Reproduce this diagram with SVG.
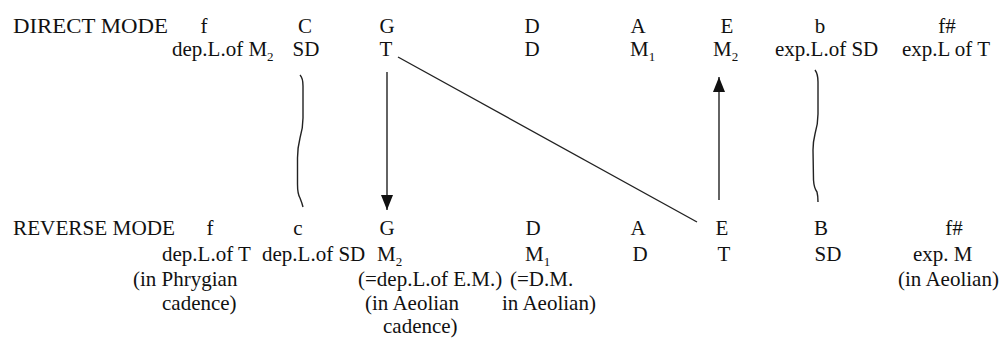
<svg xmlns="http://www.w3.org/2000/svg" width="1002" height="338" viewBox="0 0 1002 338">
<style>
text{font-family:"Liberation Serif","Times New Roman",serif;font-size:21px;fill:#111}
.m{text-anchor:middle}
.sub{font-size:13px}
.ln{stroke:#222;stroke-width:1.4;fill:none}
</style>
<defs>
<marker id="ah" viewBox="0 0 15 12" markerWidth="15" markerHeight="12" refX="15" refY="6" orient="auto" markerUnits="userSpaceOnUse">
<path d="M0,0 L15,6 L0,12 z" fill="#111"/>
</marker>
</defs>
<rect width="1002" height="338" fill="#fff"/>
<g id="connectors">
<path class="ln" d="M300,75 Q303,78 303,86 L303,118 Q303,128 300,138 Q297.5,148 297.5,158 L297.5,184 Q297.5,194 300,198 Q302,203 303,207"/>
<path class="ln" d="M815,70 Q818,74 818,82 L818,114 Q818,124 815,134 Q813,142 813,150 L813.5,180 Q814,188 817,192 Q818,196 818,202"/>
<line class="ln" x1="387" y1="72" x2="387" y2="210" marker-end="url(#ah)"/>
<line class="ln" x1="719" y1="200" x2="719" y2="77" marker-end="url(#ah)"/>
<line class="ln" x1="398" y1="57" x2="697" y2="222"/>
</g>
<g id="direct-mode-label"><text x="13" y="33" textLength="155" lengthAdjust="spacingAndGlyphs">DIRECT MODE</text></g>
<g id="d-f"><text class="m" x="204" y="33">f</text><text x="172" y="56">dep.L.of M<tspan class="sub" dy="5">2</tspan></text></g>
<g id="d-C"><text class="m" x="305" y="33">C</text><text class="m" x="306" y="56">SD</text></g>
<g id="d-G"><text class="m" x="387" y="33">G</text><text class="m" x="386" y="56">T</text></g>
<g id="d-D"><text class="m" x="532" y="33">D</text><text class="m" x="532" y="56">D</text></g>
<g id="d-A"><text class="m" x="638" y="33">A</text><text x="630" y="56">M<tspan class="sub" dy="5">1</tspan></text></g>
<g id="d-E"><text class="m" x="727" y="33">E</text><text x="713" y="56">M<tspan class="sub" dy="5">2</tspan></text></g>
<g id="d-b"><text class="m" x="820" y="33">b</text><text x="775" y="56">exp.L.of SD</text></g>
<g id="d-fs"><text class="m" x="947" y="33">f#</text><text x="902" y="56">exp.L of T</text></g>

<g id="reverse-mode-label"><text x="13" y="235" textLength="162" lengthAdjust="spacingAndGlyphs">REVERSE MODE</text></g>
<g id="r-f"><text class="m" x="210" y="235">f</text><text x="162" y="261">dep.L.of T</text><text x="133" y="286">(in Phrygian</text><text x="162" y="310">cadence)</text></g>
<g id="r-c"><text class="m" x="298" y="235">c</text><text x="262" y="261">dep.L.of SD</text></g>
<g id="r-G"><text class="m" x="387" y="235">G</text><text x="377" y="261">M<tspan class="sub" dy="5">2</tspan></text><text x="358" y="286">(=dep.L.of E.M.)</text><text x="365" y="310">(in Aeolian</text><text x="383" y="333">cadence)</text></g>
<g id="r-D"><text class="m" x="533" y="235">D</text><text x="525" y="261">M<tspan class="sub" dy="5">1</tspan></text><text x="510" y="286">(=D.M.</text><text x="502" y="310">in Aeolian)</text></g>
<g id="r-A"><text class="m" x="638" y="235">A</text><text class="m" x="640" y="261">D</text></g>
<g id="r-E"><text class="m" x="722" y="235">E</text><text class="m" x="724" y="261">T</text></g>
<g id="r-B"><text class="m" x="821" y="235">B</text><text class="m" x="828" y="261">SD</text></g>
<g id="r-fs"><text class="m" x="954" y="235">f#</text><text x="913" y="261">exp. M</text><text x="898" y="286">(in Aeolian)</text></g>
</svg>
